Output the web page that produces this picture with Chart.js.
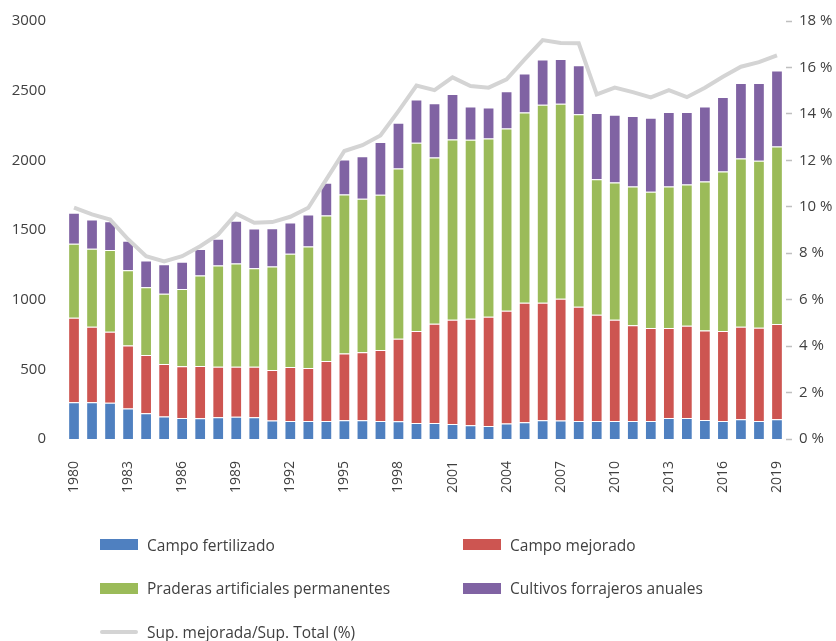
<!DOCTYPE html>
<html>
<head>
<meta charset="utf-8">
<title>Superficie mejorada</title>
<script src="https://cdn.jsdelivr.net/npm/chart.js@4.4.0/dist/chart.umd.min.js"></script>
<style>
	body { margin: 0; background: #fff; font-family: "Open Sans", sans-serif; }
	#wrap { position: relative; width: 836px; height: 641px; }
	#legend { position: absolute; left: 100px; top: 523px; display: grid; grid-template-columns: 363px 340px; grid-auto-rows: 43.5px; }
	.item { display: flex; align-items: center; font-size: 15.5px; color: #404040; }
	.swatch { width: 38px; height: 11px; margin-right: 9px; }
	.swatch.line { height: 4px; border-radius: 2px; }
</style>
</head>
<body>
<div id="wrap">
	<canvas id="chart" width="836" height="641"></canvas>
	<div id="legend"></div>
</div>
<script>
const years = [];
for (let y = 1980; y <= 2019; y++) years.push(String(y));

// thousands of hectares
const campoFertilizado = [264, 264, 260, 219, 185, 161, 151, 149, 156, 159,
	156, 132, 130, 130, 130, 135, 135, 130, 127, 115,
	115, 108, 99, 94, 111, 120, 135, 132, 130, 130,
	130, 130, 130, 151, 151, 137, 130, 142, 130, 142];
const campoMejorado = [606, 541, 509, 452, 418, 377, 371, 375, 363, 360,
	363, 363, 387, 380, 430, 478, 488, 509, 592, 661,
	712, 748, 764, 783, 810, 858, 843, 875, 820, 762,
	726, 687, 666, 645, 662, 642, 646, 663, 668, 683];
const praderas = [531, 560, 587, 541, 486, 505, 555, 649, 726, 741,
	707, 743, 812, 872, 1044, 1142, 1101, 1114, 1223, 1350,
	1194, 1294, 1285, 1280, 1308, 1366, 1421, 1399, 1380, 973,
	985, 996, 978, 1017, 1014, 1069, 1144, 1209, 1199, 1275];
const cultivos = [223, 210, 207, 211, 192, 212, 195, 190, 193, 307,
	284, 274, 224, 229, 235, 251, 306, 378, 328, 311,
	388, 326, 239, 223, 266, 280, 324, 321, 352, 474,
	486, 505, 532, 533, 519, 539, 534, 541, 558, 544];
// percent of total surface
const supMejorada = [9.96, 9.67, 9.45, 8.6, 7.87, 7.65, 7.87, 8.3, 8.81, 9.7,
	9.31, 9.34, 9.57, 9.96, 11.18, 12.4, 12.65, 13.07, 14.12, 15.22,
	15.02, 15.57, 15.2, 15.13, 15.49, 16.35, 17.18, 17.05, 17.04, 14.84,
	15.13, 14.94, 14.71, 15.02, 14.72, 15.13, 15.6, 16.03, 16.23, 16.52];

const leftTicks = [0, 500, 1000, 1500, 2000, 2500, 3000];
const rightTicks = [0, 2, 4, 6, 8, 10, 12, 14, 16, 18];

const textColor = "#404040";
const font = { family: "'Open Sans', sans-serif", size: 15 };

function bar(label, data, color) {
	return {
		type: "bar",
		label: label,
		data: data,
		backgroundColor: color,
		borderColor: "rgba(255,255,255,0.45)",
		borderWidth: 1,
		yAxisID: "y",
		stack: "sup",
		order: 1,
		barPercentage: 0.65,
		categoryPercentage: 1
	};
}

const datasets = [
	bar("Campo fertilizado", campoFertilizado, "#4f80c0"),
	bar("Campo mejorado", campoMejorado, "#cd5551"),
	bar("Praderas artificiales permanentes", praderas, "#9bbb59"),
	bar("Cultivos forrajeros anuales", cultivos, "#8063a3"),
	{
		type: "line",
		label: "Sup. mejorada/Sup. Total (%)",
		data: supMejorada,
		borderColor: "#d4d4d4",
		backgroundColor: "#d4d4d4",
		borderWidth: 4,
		pointRadius: 0,
		tension: 0,
		yAxisID: "y1",
		order: 0
	}
];

const chart = new Chart(document.getElementById("chart"), {
	type: "bar",
	data: { labels: years, datasets: datasets },
	options: {
		responsive: false,
		animation: false,
		layout: { padding: { top: 21, left: 0, right: 0, bottom: 0 } },
		plugins: { legend: { display: false }, tooltip: { enabled: false } },
		scales: {
			x: {
				stacked: true,
				grid: { display: false },
				border: { display: false },
				ticks: {
					autoSkip: false,
					minRotation: 90,
					maxRotation: 90,
					padding: 14,
					color: textColor,
					font: { family: font.family, size: 14 },
					callback: (v, i) => i % 3 === 0 ? years[i] : ""
				},
				afterFit: s => { s.height = 202; }
			},
			y: {
				stacked: true,
				position: "left",
				min: 0,
				max: 3000,
				// hidden tick marks only push the labels away from the bars
				grid: { display: false, tickLength: 19 },
				border: { display: false },
				afterBuildTicks: s => { s.ticks = leftTicks.map(v => ({ value: v })); },
				ticks: { padding: 0, color: textColor, font: font, callback: v => String(v) },
				afterFit: s => { s.width = 65; }
			},
			y1: {
				position: "right",
				min: 0,
				max: 18,
				grid: { drawOnChartArea: false, color: "#bfbfbf", tickLength: 6, tickWidth: 1.5 },
				border: { display: false },
				afterBuildTicks: s => { s.ticks = rightTicks.map(v => ({ value: v })); },
				ticks: { padding: 7, color: textColor, font: font, callback: v => v + " %" },
				afterFit: s => { s.width = 50; }
			}
		}
	}
});

// legend in two columns under the plot
const $legend = document.getElementById("legend");
chart.data.datasets.forEach(ds => {
	const item = document.createElement("div");
	item.className = "item";
	const sw = document.createElement("span");
	sw.className = ds.type === "line" ? "swatch line" : "swatch";
	sw.style.background = ds.backgroundColor;
	item.appendChild(sw);
	item.appendChild(document.createTextNode(ds.label));
	$legend.appendChild(item);
});
</script>
</body>
</html>
